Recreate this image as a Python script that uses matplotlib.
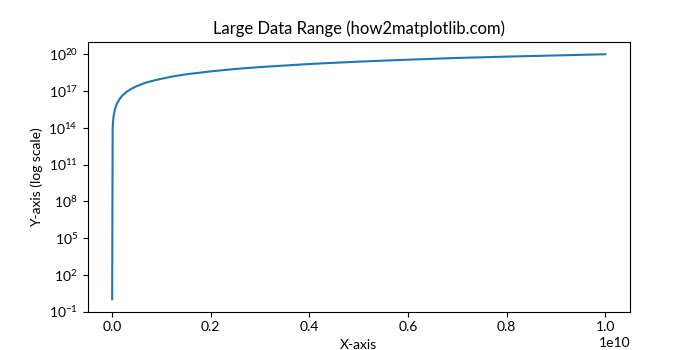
import matplotlib
matplotlib.use('Agg')
import matplotlib.pyplot as plt

plt.rcParams['font.family'] = ['Lato', 'DejaVu Sans']

# points (x, y)
x_vals = [1, 1e7, 2e7, 3e7, 5e7, 7e7, 1e8, 1.5e8, 2e8, 3e8, 4e8, 5e8, 6e8,
          7e8, 8.5e8, 1e9, 1.25e9, 1.5e9, 2e9, 2.5e9, 3e9, 4e9, 5e9, 6e9,
          7e9, 8e9, 9e9, 1e10]
y_vals = [1, 1e14, 4e14, 9e14, 2.5e15, 5e15, 1e16, 2.2e16, 4e16, 9e16,
          1.6e17, 2.5e17, 3.6e17, 5e17, 7.2e17, 1e18, 1.6e18, 2.3e18, 4e18,
          6.3e18, 9e18, 1.6e19, 2.5e19, 3.6e19, 5e19, 6.4e19, 8e19, 1e20]

fig = plt.figure(figsize=(7, 3.5), dpi=100)
ax = fig.add_subplot(111)
ax.plot(x_vals, y_vals)
ax.set_yscale('log')
ax.minorticks_off()
ax.set_title('Large Data Range (how2matplotlib.com)')
ax.set_xlabel('X-axis')
ax.set_ylabel('Y-axis (log scale)')
fig.savefig('out.png')
